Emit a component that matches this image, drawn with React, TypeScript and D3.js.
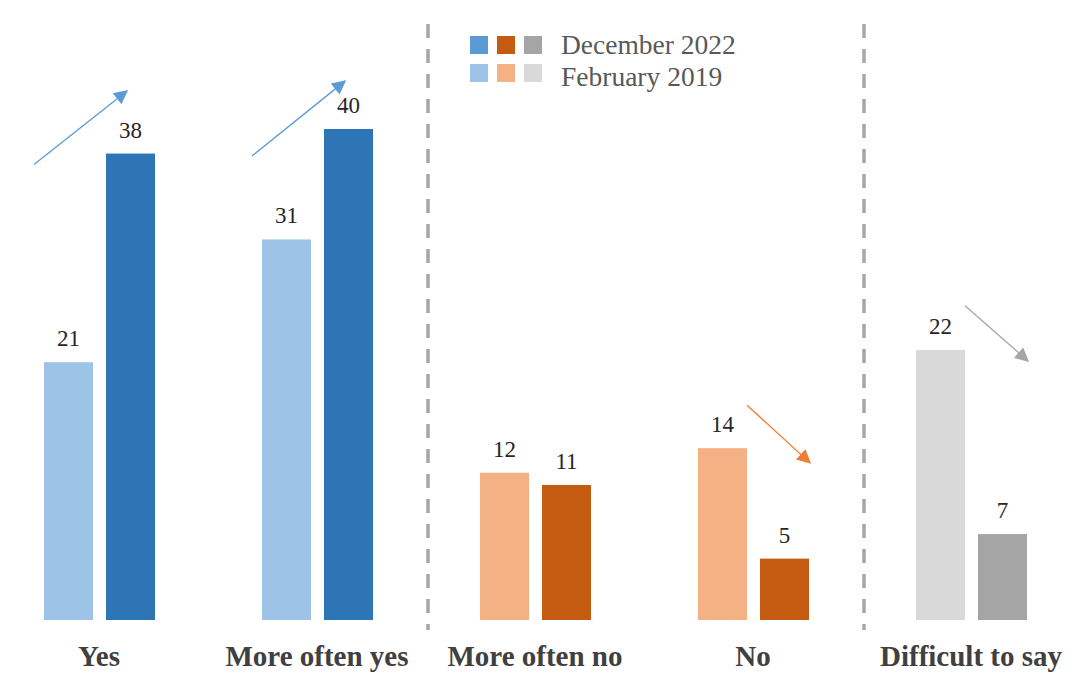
import * as d3 from 'd3'

const categories = ['Yes', 'More often yes', 'More often no', 'No', 'Difficult to say']
const feb2019 = [21, 31, 12, 14, 22]
const dec2022 = [38, 40, 11, 5, 7]
const groups = ['blue', 'blue', 'orange', 'orange', 'gray']
const seriesNames = ['February 2019', 'December 2022']

// trend arrows: category, value at start, value at end
const arrowCats = ['Yes', 'More often yes', 'No', 'Difficult to say']
const arrowFrom = [37.1, 37.8, 17.5, 25.6]
const arrowTo = [43.1, 43.9, 12.8, 21.1]

const palette: Record<string, { light: string; dark: string; legend: string; arrow: string }> = {
  blue: { light: '#9DC3E6', dark: '#2E75B6', legend: '#5B9BD5', arrow: '#5B9BD5' },
  orange: { light: '#F4B183', dark: '#C55A11', legend: '#C55A11', arrow: '#ED7D31' },
  gray: { light: '#D9D9D9', dark: '#A5A5A5', legend: '#A5A5A5', arrow: '#A5A5A5' },
}

const W = 1087
const H = 680
const serif = '"Liberation Serif", "Times New Roman", serif'

export default function App() {
  const x = d3.scaleBand<string>().domain(categories).range([-10, 1080]).padding(0)
  const inner = d3
    .scaleBand<string>()
    .domain(seriesNames)
    .range([54, 165])
    .paddingInner(0.21)
  const y = d3.scaleLinear().domain([0, 40]).range([620, 129])

  const separators = [categories[2], categories[4]].map((c) => x(c) || 0)

  const legendGroups = ['blue', 'orange', 'gray']

  return (
    <svg
      width={W}
      height={H}
      viewBox={`0 0 ${W} ${H}`}
      style={{ position: 'absolute', left: 0, top: 0, background: '#fff' }}
    >
      <defs>
        {legendGroups.map((g) => (
          <marker
            key={g}
            id={`head-${g}`}
            viewBox="0 0 10 10"
            refX={9}
            refY={5}
            markerWidth={16}
            markerHeight={14}
            markerUnits="userSpaceOnUse"
            orient="auto"
          >
            <path d="M0,0 L10,5 L0,10 z" fill={palette[g].arrow} />
          </marker>
        ))}
      </defs>

      {separators.map((sx, i) => (
        <line
          key={i}
          x1={sx + 2}
          x2={sx + 2}
          y1={24}
          y2={630}
          stroke="#A6A6A6"
          strokeWidth={3.5}
          strokeDasharray="14,11"
        />
      ))}

      {categories.map((c, i) => {
        const bx = x(c) || 0
        const pal = palette[groups[i]]
        const vals = [feb2019[i], dec2022[i]]
        return (
          <g key={c}>
            {seriesNames.map((s, j) => {
              const rx = bx + (inner(s) || 0)
              return (
                <g key={s}>
                  <rect
                    x={rx}
                    y={y(vals[j])}
                    width={inner.bandwidth()}
                    height={y(0) - y(vals[j])}
                    fill={j === 0 ? pal.light : pal.dark}
                  />
                  <text
                    x={rx + inner.bandwidth() / 2}
                    y={y(vals[j]) - 16}
                    textAnchor="middle"
                    fontFamily={serif}
                    fontSize={23}
                    fill="#262626"
                  >
                    {vals[j]}
                  </text>
                </g>
              )
            })}
            <text
              x={bx + x.bandwidth() / 2}
              y={666}
              textAnchor="middle"
              fontFamily={serif}
              fontWeight="bold"
              fontSize={29}
              fill="#404040"
            >
              {c}
            </text>
          </g>
        )
      })}

      {arrowCats.map((c, i) => {
        const bx = x(c) || 0
        const up = arrowTo[i] > arrowFrom[i]
        const g = groups[categories.indexOf(c)]
        const x0 = bx + (up ? 44 : 103)
        const x1 = bx + (up ? 137 : 166)
        return (
          <line
            key={c}
            x1={x0}
            y1={y(arrowFrom[i])}
            x2={x1}
            y2={y(arrowTo[i])}
            stroke={palette[g].arrow}
            strokeWidth={1.3}
            markerEnd={`url(#head-${g})`}
          />
        )
      })}

      <g>
        {legendGroups.map((g, k) => (
          <g key={g}>
            <rect x={470 + k * 27} y={36} width={18} height={18} fill={palette[g].legend} />
            <rect x={470 + k * 27} y={64} width={18} height={18} fill={palette[g].light} />
          </g>
        ))}
        <text x={561} y={54} fontFamily={serif} fontSize={27.5} fill="#595959">
          {seriesNames[1]}
        </text>
        <text x={561} y={86} fontFamily={serif} fontSize={27.5} fill="#595959">
          {seriesNames[0]}
        </text>
      </g>
    </svg>
  )
}
